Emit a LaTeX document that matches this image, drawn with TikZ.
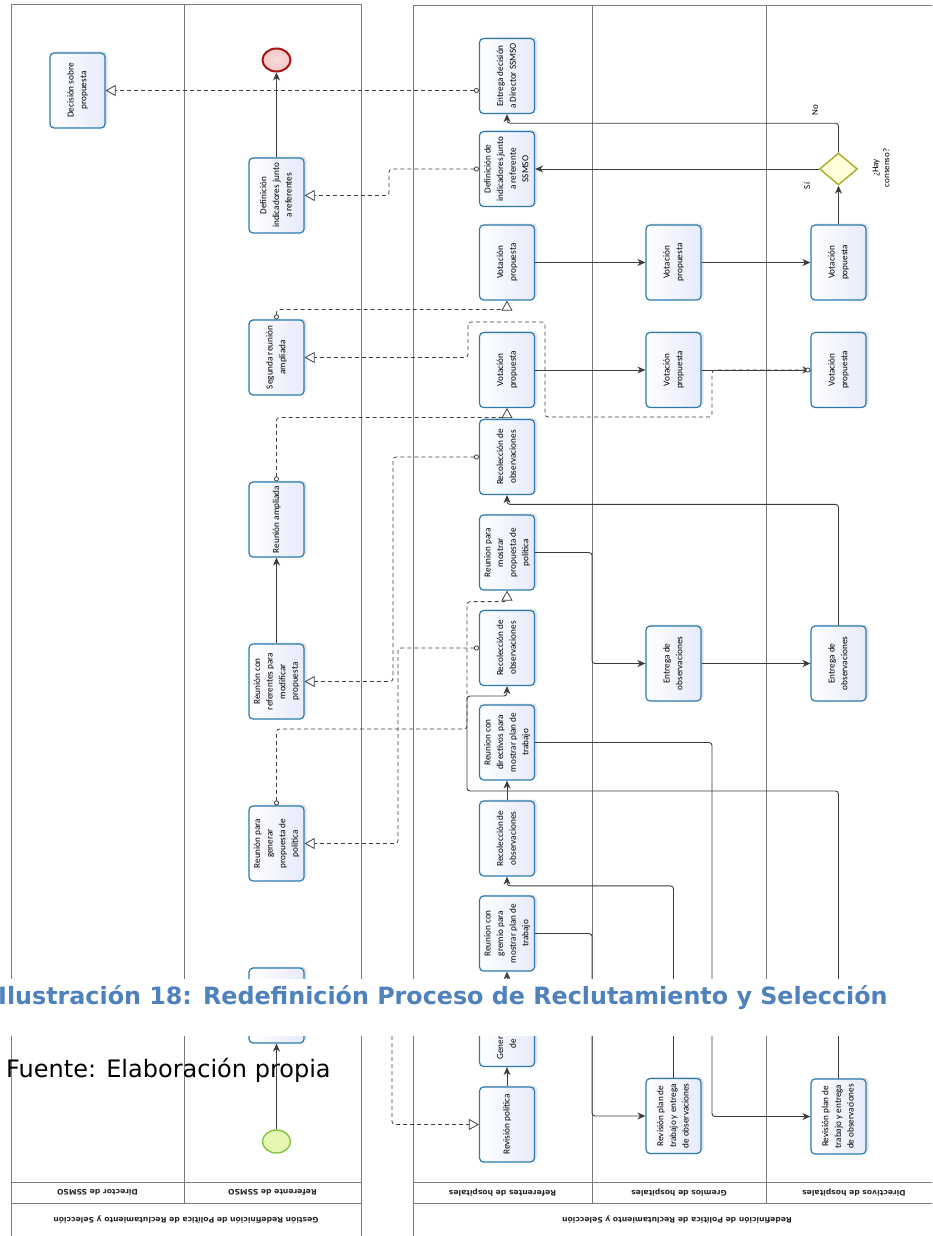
\documentclass[tikz,border=0pt]{standalone}
\usepackage{fontspec}
\usepackage{graphicx}
\setmainfont{Carlito}
\newfontfamily\dejavu{DejaVu Sans}
\usetikzlibrary{arrows.meta,shapes.geometric,shadows}
\definecolor{taskblue}{HTML}{2A7AB0}
\definecolor{taskfill}{HTML}{E6EAFB}
\definecolor{poolgray}{HTML}{7A7A7A}
\definecolor{flowgray}{HTML}{3C3C3C}
\definecolor{msggray}{HTML}{404040}
\definecolor{capblue}{HTML}{4F81BD}
\definecolor{endred}{HTML}{A31515}
\definecolor{endfill}{HTML}{F3C6C6}
\definecolor{startgreen}{HTML}{82C341}
\definecolor{startfill}{HTML}{E8F6B4}
\definecolor{gwborder}{HTML}{B0AE2E}
\definecolor{gwfill}{HTML}{FFFFDC}
\newcommand{\tasklbl}[1]{\rotatebox{90}{\begin{tabular}{@{}c@{}}#1\end{tabular}}}
\begin{document}
\begin{tikzpicture}[x=1pt,y=-1pt,
  task/.style={rectangle, rounded corners=4pt, draw=taskblue, line width=1.2pt,
    left color=white, right color=taskfill, minimum width=55pt, minimum height=75pt,
    inner sep=1pt, text=black, font=\fontsize{9.2}{12.6}\selectfont,
    drop shadow={shadow xshift=2.5pt, shadow yshift=1.5pt, opacity=0.18, fill=black!60}},
  pool/.style={draw=poolgray, line width=0.9pt},
  hdr/.style={font=\dejavu\bfseries\fontsize{7.6}{9}\selectfont, text=black!85, rotate=180, inner sep=0},
  seq/.style={draw=flowgray, line width=0.9pt, rounded corners=3pt,
    -{Stealth[length=8pt,width=7pt,inset=2.5pt]}},
  msg/.style={draw=msggray, line width=0.8pt, dash pattern=on 4pt off 3pt, rounded corners=3pt,
    {Circle[length=5pt,width=5pt,fill=white]}-{Triangle[length=10pt,width=11pt,fill=white]}},
  lbl/.style={font=\fontsize{9}{11}\selectfont, rotate=90, align=center, inner sep=0}]
\clip (0,0) rectangle (932,1236);
% pools and lanes
\draw[pool] (11,4) -- (361,4);
\draw[pool] (11,4) -- (11,1240);
\draw[pool] (361,4) -- (361,1240);
\draw[pool] (184,4) -- (184,1203);
\draw[pool] (11,1182) -- (361,1182);
\draw[pool] (11,1203) -- (361,1203);
\draw[pool] (413,5) -- (942,5);
\draw[pool] (413,5) -- (413,1240);
\draw[pool] (592,5) -- (592,1203);
\draw[pool] (766,5) -- (766,1203);
\draw[pool] (413,1182) -- (942,1182);
\draw[pool] (413,1203) -- (942,1203);
\node[hdr] (hd1) at (97.5,1192.5) {Director de SSMSO};
\node[hdr] (hd2) at (272.5,1192.5) {Referente de SSMSO};
\node[hdr] (hp1) at (186,1220) {Gestión Redefinición de Política de Reclutamiento y Selección};
\node[hdr] (hd3) at (502.5,1192.5) {Referentes de hospitales};
\node[hdr] (hd4) at (679,1192.5) {Gremios de hospitales};
\node[hdr] (hd5) at (854,1192.5) {Directivos de hospitales};
\node[hdr] (hp2) at (677,1220) {Redefinición de Política de Reclutamiento y Selección};
% Director de SSMSO
\node[task] (dec) at (77.5,90.5) {\tasklbl{Decisión sobre\\propuesta}};
% Referente de SSMSO
\node[ellipse, draw=endred, line width=2pt, inner color=endfill!60, outer color=endfill, minimum width=28pt, minimum height=23pt, inner sep=0] (endev) at (276.5,60) {};
\node[task] (defref) at (276.5,195.5) {\tasklbl{Definición\\indicadores junto\\a referentes}};
\node[task] (seg) at (276.5,357.5) {\tasklbl{Segunda reunión\\ampliada}};
\node[task] (ampl) at (276.5,519.5) {\tasklbl{Reunión ampliada}};
\node[task] (modif) at (276.5,681.5) {\tasklbl{Reunión con\\referentes para\\modificar\\propuesta}};
\node[task] (generar) at (276.5,843.5) {\tasklbl{Reunión para\\generar\\propuesta de\\política}};
\node[task] (hidR) at (276.5,1005.5) {};
\node[ellipse, draw=startgreen, line width=1.4pt, fill=startfill, minimum width=28pt, minimum height=23pt, inner sep=0] (startev) at (276.5,1141.5) {};
% Referentes de hospitales
\node[task] (entr) at (507,76) {\tasklbl{Entrega decisión\\a Director SSMSO}};
\node[task] (defind) at (507,169) {\tasklbl{Definición de\\indicadores junto\\a referente\\SSMSO}};
\node[task] (vot1) at (507,262.5) {\tasklbl{Votación\\propuesta}};
\node[task] (vot2) at (507,370) {\tasklbl{Votación\\propuesta}};
\node[task] (rec1) at (507,457) {\tasklbl{Recolección de\\observaciones}};
\node[task] (mprop) at (507,552.5) {\tasklbl{Reunion para\\mostrar\\propuesta de\\política}};
\node[task] (rec2) at (507,648) {\tasklbl{Recolección de\\observaciones}};
\node[task] (dirv) at (507,742.5) {\tasklbl{Reunion con\\directivos para\\mostrar plan de\\trabajo}};
\node[task] (rec3) at (507,838.5) {\tasklbl{Recolección de\\observaciones}};
\node[task] (gremio) at (507,933.5) {\tasklbl{Reunion con\\gremio para\\mostrar plan de\\trabajo}};
\node[task] (gen) at (507,1029) {\tasklbl{Generación plan\\de trabajo}};
\node[task] (revpol) at (507,1124.5) {\tasklbl{Revisión política}};
% Gremios de hospitales
\node[task] (votg1) at (673.5,262.5) {\tasklbl{Votación\\propuesta}};
\node[task] (votg2) at (673.5,370) {\tasklbl{Votación\\propuesta}};
\node[task] (entg) at (673.5,663.5) {\tasklbl{Entrega de\\observaciones}};
\node[task] (revg) at (673.5,1116) {\tasklbl{Revisión plan de\\trabajo y entrega\\de observaciones}};
% Directivos de hospitales
\node[diamond, draw=gwborder, line width=1.5pt, fill=gwfill, minimum width=38pt, minimum height=32pt, aspect=1.19, inner sep=0] (gw) at (838.5,169) {};
\node[lbl] (gwl) at (881,168) {¿Hay\\consenso?};
\node[lbl] (si) at (807,186) {Sí};
\node[lbl] (no) at (815,110) {No};
\node[task] (votd1) at (838.5,262.5) {\tasklbl{Votación\\popuesta}};
\node[task] (votd2) at (838.5,370) {\tasklbl{Votación\\propuesta}};
\node[task] (entd) at (838.5,663.5) {\tasklbl{Entrega de\\observaciones}};
\node[task] (revd) at (838.5,1116.5) {\tasklbl{Revisión plan de\\trabajo y entrega\\de observaciones}};
% sequence flows
\draw[seq] (startev.north) -- (hidR.south);
\draw[seq] (modif.north) -- (ampl.south);
\draw[seq] (defref.north) -- (endev.south);
\draw[seq] (revpol.north) -- (gen.south);
\draw[seq] (gen.north) -- (gremio.south);
\draw[seq] (gremio.east) -| (592,1000) |- (revg.west);
\draw[seq] (revg.north) -- ++(0,-192) -| (rec3.south);
\draw[seq] (rec3.north) -- (dirv.south);
\draw[seq] (dirv.east) -| (712,900) |- (revd.west);
\draw[seq] (revd.north) |- (467,791) -- (467,696) -| (rec2.south);
\draw[seq] (mprop.east) -| (592,600) |- (entg.west);
\draw[seq] (entg.east) -- (entd.west);
\draw[seq] (entd.north) -- ++(0,-121) -| (rec1.south);
\draw[seq] (vot1.east) -- (votg1.west);
\draw[seq] (votg1.east) -- (votd1.west);
\draw[seq] (votd1.north) -- (gw.south);
\draw[seq] (gw.west) -- (defind.east);
\draw[seq] (gw.north) -- ++(0,-29) -| (entr.south);
\draw[seq] (vot2.east) -- (votg2.west);
\draw[seq] (votg2.east) -- (votd2.west);
% message flows
\draw[msg] (dec.east -| entr.west) -- (dec.east);
\draw[msg] (defind.west) -| (389,180) |- (defref.east);
\draw[msg] (seg.north) -- ++(0,-10) -| (vot1.south);
\draw[msg] (votd2.west) -- (712,370) |- (545,417) |- (468,322) |- (seg.east);
\draw[msg] (ampl.north) -- ++(0,-64) -| (vot2.south);
\draw[msg] (rec1.west) -| (393,560) |- (modif.east);
\draw[msg] (generar.north) |- (467,729) |- ([yshift=-11pt]mprop.south) -- (mprop.south);
\draw[msg] (rec2.west) -| (398,750) |- (generar.east);
\draw[msg] (hidR.east) -| (392,1060) |- (revpol.west);
% caption overlay
\fill[white] (0,979) rectangle (932,1036);
\node[anchor=base west, inner sep=0, font=\dejavu\bfseries\fontsize{23.8}{28}\selectfont, text=capblue] (cap) at (-2,1004) {Ilustración 18: Redefinición Proceso de Reclutamiento y Selección};
\node[anchor=base west, inner sep=0, font=\dejavu\fontsize{24}{28}\selectfont, text=black] (src) at (6,1077) {Fuente: Elaboración propia};
\end{tikzpicture}
\end{document}
